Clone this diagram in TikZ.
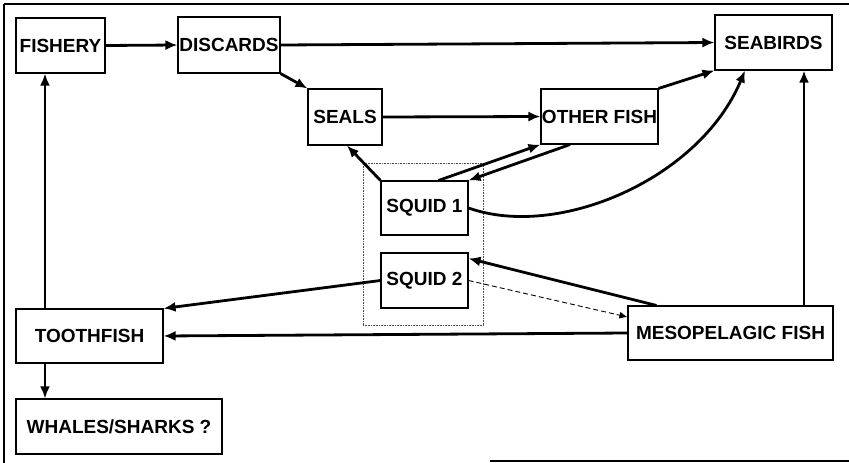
\documentclass[tikz,border=0pt]{standalone}
\usepackage{fontspec}
\setmainfont{Liberation Sans}
\usetikzlibrary{arrows.meta}
\begin{document}
\begin{tikzpicture}[x=1pt,y=-1pt,
  box/.style={draw,line width=1.1pt,rectangle,inner sep=0pt,font=\fontsize{19}{21}\selectfont\bfseries},
  flow/.style={line width=2.8pt,-{Latex[length=12pt,width=10pt]}},
  weak/.style={line width=0.9pt,dashed,dash pattern=on 5pt off 3pt,-{Latex[length=8pt,width=7pt]}},
  frame/.style={line width=1.4pt},
  group/.style={draw,line width=0.6pt,densely dotted,draw=black!70,inner sep=0pt}]
\useasboundingbox (0,0) rectangle (849,463);
% frame
\draw[frame] (4,4) -- (849,4);
\draw[frame] (4,4) -- (4,463);
\draw[frame] (490,461) -- (849,461);
% squid group box
\node[group,minimum width=120pt,minimum height=162pt] (grp) at (423,244) {};
% nodes
\node[box,minimum width=89pt,minimum height=55pt] (fishery) at (60.5,45.5) {FISHERY};
\node[box,minimum width=102pt,minimum height=56pt] (discards) at (229,45) {DISCARDS};
\node[box,minimum width=74pt,minimum height=56pt] (seals) at (345,117) {SEALS};
\node[box,minimum width=117pt,minimum height=55pt] (other) at (599.5,116.5) {OTHER FISH};
\node[box,minimum width=117pt,minimum height=55pt] (seabirds) at (773.5,42.5) {SEABIRDS};
\node[box,minimum width=87pt,minimum height=54pt] (squid1) at (424.5,208) {SQUID 1};
\node[box,minimum width=87pt,minimum height=55pt] (squid2) at (424.5,280.5) {SQUID 2};
\node[box,minimum width=147pt,minimum height=54pt] (tooth) at (89.5,336) {TOOTHFISH};
\node[box,minimum width=206pt,minimum height=55pt] (whales) at (119,426.5) {WHALES/SHARKS ?};
\node[box,minimum width=205pt,minimum height=54pt] (meso) at (730.5,333) {MESOPELAGIC FISH};
% connectors
\draw[flow] (fishery.east) -- (discards.west);
\draw[flow] (discards.east) -- (seabirds.west);
\draw[flow] (discards.south east) -- (seals.north west);
\draw[flow] (seals.east) -- (other.west);
\draw[flow] (other.north east) -- (seabirds.south west);
\draw[flow] (squid1.north west) -- ([xshift=2pt]seals.south);
\draw[flow] ([xshift=14pt]squid1.north) -- (other.south west);
\draw[flow] ([xshift=-29.5pt]other.south) -- (squid1.north east);
\draw[flow] (squid1.east) .. controls +(90,32) and +(-45,108) .. ([xshift=-28.5pt]seabirds.south);
\draw[flow] ([xshift=73.5pt]meso.north) -- ([xshift=30.5pt]seabirds.south);
\draw[flow] ([xshift=29pt]meso.north west) -- ([yshift=-6pt]squid2.north east);
\draw[weak] (squid2.east) -- ([yshift=16pt]meso.west);
\draw[flow] (squid2.west) -- (tooth.north east);
\draw[flow] (meso.west) -- (tooth.east);
\draw[flow] ([xshift=-44.5pt]tooth.north) -- ([xshift=-15.5pt]fishery.south);
\draw[flow] ([xshift=-44.5pt]tooth.south) -- ([xshift=-74pt]whales.north);
\end{tikzpicture}
\end{document}
